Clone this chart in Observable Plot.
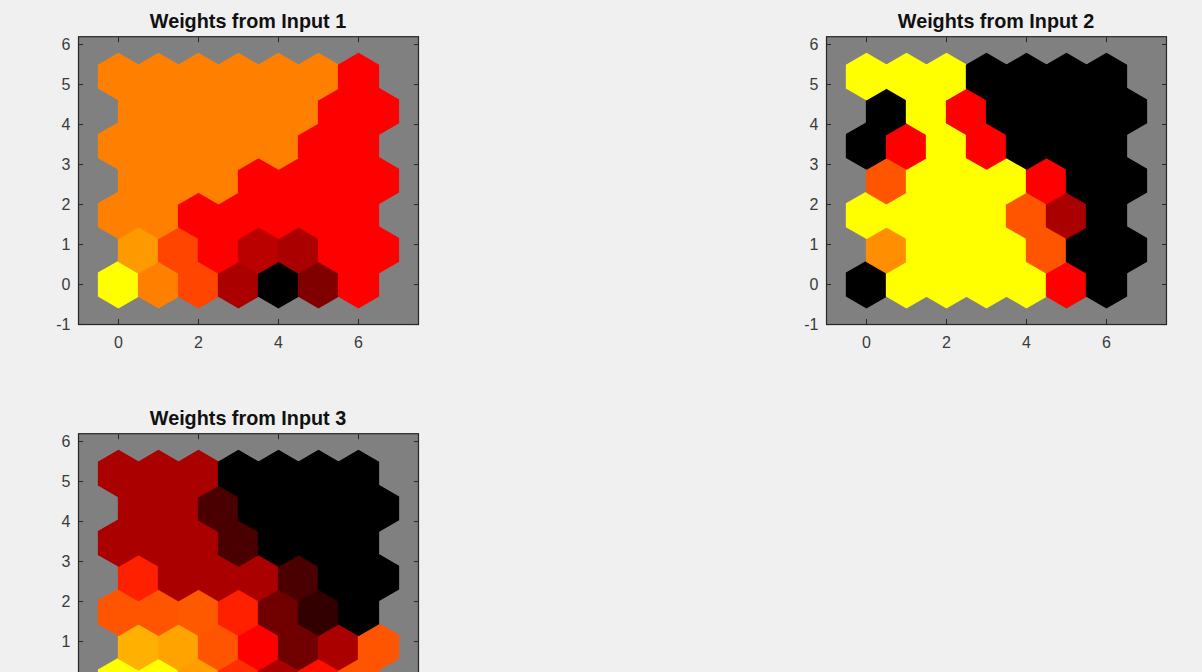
<!DOCTYPE html>
<html>
<head>
<meta charset="utf-8">
<script src="https://cdn.jsdelivr.net/npm/d3@7"></script>
<script src="https://cdn.jsdelivr.net/npm/@observablehq/plot@0.6"></script>
<style>
  html, body { margin: 0; padding: 0; background: #f0f0f0; }
  #fig { position: relative; width: 1202px; height: 672px; overflow: hidden; background: #f0f0f0;
         font-family: "Liberation Sans", Arial, Helvetica, sans-serif; }
  .panel { position: absolute; }
  .title { position: absolute; width: 340px; text-align: center; font-weight: bold; font-size: 19.8px;
           color: #111; line-height: 1; white-space: nowrap; }
</style>
</head>
<body>
<div id="fig"></div>
<script>
// SOM weight planes on a 7 x 7 hexagonal grid (rows listed bottom to top).
const gridCols = 7;
const gridRows = 7;

const titles = ["Weights from Input 1", "Weights from Input 2", "Weights from Input 3"];

const weightsInput1 = [
  1.00, 0.75, 0.635, 0.333, 0.00, 0.25, 0.50,
  0.80, 0.635, 0.50, 0.367, 0.333, 0.50, 0.50,
  0.75, 0.75, 0.50, 0.50, 0.50, 0.50, 0.50,
  0.75, 0.75, 0.75, 0.50, 0.50, 0.50, 0.50,
  0.75, 0.75, 0.75, 0.75, 0.75, 0.50, 0.50,
  0.75, 0.75, 0.75, 0.75, 0.75, 0.50, 0.50,
  0.75, 0.75, 0.75, 0.75, 0.75, 0.75, 0.50
];

const weightsInput2 = [
  0.00, 1.00, 1.00, 1.00, 1.00, 0.50, 0.00,
  0.78, 1.00, 1.00, 1.00, 0.667, 0.00, 0.00,
  1.00, 1.00, 1.00, 1.00, 0.667, 0.333, 0.00,
  0.667, 1.00, 1.00, 1.00, 0.50, 0.00, 0.00,
  0.00, 0.50, 1.00, 0.50, 0.00, 0.00, 0.00,
  0.00, 1.00, 0.50, 0.00, 0.00, 0.00, 0.00,
  1.00, 1.00, 1.00, 0.00, 0.00, 0.00, 0.00
];

const weightsInput3 = [
  1.00, 1.00, 0.81, 0.59, 0.333, 0.53, 0.667,
  0.845, 0.82, 0.667, 0.50, 0.22, 0.333, 0.667,
  0.667, 0.667, 0.675, 0.5625, 0.22, 0.10, 0.00,
  0.5625, 0.333, 0.333, 0.333, 0.145, 0.00, 0.00,
  0.333, 0.333, 0.333, 0.145, 0.00, 0.00, 0.00,
  0.333, 0.333, 0.145, 0.00, 0.00, 0.00, 0.00,
  0.333, 0.333, 0.333, 0.00, 0.00, 0.00, 0.00
];

const xTicks = [0, 2, 4, 6];
const yTicks = [-1, 0, 1, 2, 3, 4, 5, 6];

// black -> red -> yellow ramp
const hot = t => d3.rgb(255 * Math.min(1, 2 * t), 255 * Math.max(0, 2 * t - 1), 0).toString();

// hexagonal topology: odd rows shifted half a unit, rows sqrt(3)/2 apart
function cells(weights) {
  return weights.map((w, i) => {
    const row = Math.floor(i / gridCols), col = i % gridCols;
    return { x: col + 0.5 * (row % 2), y: row * Math.sqrt(3) / 2, w };
  });
}

const xDomain = [-1, (gridCols - 1) + 0.5 + 1];
const yDomain = [-1, (gridRows - 1) * Math.sqrt(3) / 2 + 1];
const unit = 40; // pixels per data unit (equal aspect)
const innerW = (xDomain[1] - xDomain[0]) * unit;
const innerH = (yDomain[1] - yDomain[0]) * unit;
const mL = 78, mR = 40, mT = 36.2, mB = 50;
const blank = () => "";

// labels that fall below the bottom of the figure window are left blank
function panel(weights, xLabelFmt, yLabelFmt) {
  const tickStyle = { stroke: "#262626" };
  return Plot.plot({
    width: mL + innerW + mR,
    height: mT + innerH + mB,
    marginLeft: mL, marginRight: mR, marginTop: mT, marginBottom: mB,
    style: { background: "transparent", fontFamily: "Liberation Sans, Arial, sans-serif", fontSize: "16px", color: "#3a3a3a" },
    x: { domain: xDomain, ticks: xTicks, label: null },
    y: { domain: yDomain, ticks: yTicks, label: null },
    color: { type: "linear", domain: [0, 1], interpolate: hot },
    marks: [
      Plot.frame({ fill: "#808080" }),
      Plot.dot(cells(weights), {
        x: "x", y: "y", fill: "w", stroke: "w", strokeWidth: 1.3,
        symbol: "hexagon", r: unit / 2
      }),
      Plot.axisX(xTicks, { anchor: "bottom", label: null, tickSize: -5, tickPadding: 17,
        tickFormat: xLabelFmt, ...tickStyle, fill: "#3a3a3a" }),
      Plot.axisX(xTicks, { anchor: "top", label: null, tickSize: -5, tickFormat: blank, ...tickStyle }),
      Plot.axisY(yTicks, { anchor: "left", label: null, tickSize: -5, tickPadding: 13,
        tickFormat: yLabelFmt, ...tickStyle, fill: "#3a3a3a" }),
      Plot.axisY(yTicks, { anchor: "right", label: null, tickSize: -5, tickFormat: blank, ...tickStyle }),
      Plot.frame({ stroke: "#262626", strokeWidth: 1.2 })
    ]
  });
}

const fig = document.getElementById("fig");
const figHeight = 672;
const placements = [
  { left: 0, top: 0 },
  { left: 748, top: 0 },
  { left: 0, top: 397 }
];
[weightsInput1, weightsInput2, weightsInput3].forEach((w, i) => {
  const p = placements[i];
  // y pixel of a data value inside the page, to keep only labels that are on screen
  const yPx = v => p.top + mT + (yDomain[1] - v) * unit;
  const xFmt = p.top + mT + innerH + 24 < figHeight ? d => String(d) : blank;
  const yFmt = d => (yPx(d) + 8 < figHeight ? String(d) : "");
  const svg = panel(w, xFmt, yFmt);
  svg.classList.add("panel");
  svg.style.left = p.left + "px";
  svg.style.top = p.top + "px";
  fig.appendChild(svg);
  const t = document.createElement("div");
  t.className = "title";
  t.textContent = titles[i];
  t.style.left = (p.left + mL) + "px";
  t.style.top = (p.top + 12) + "px";
  fig.appendChild(t);
});
</script>
</body>
</html>
